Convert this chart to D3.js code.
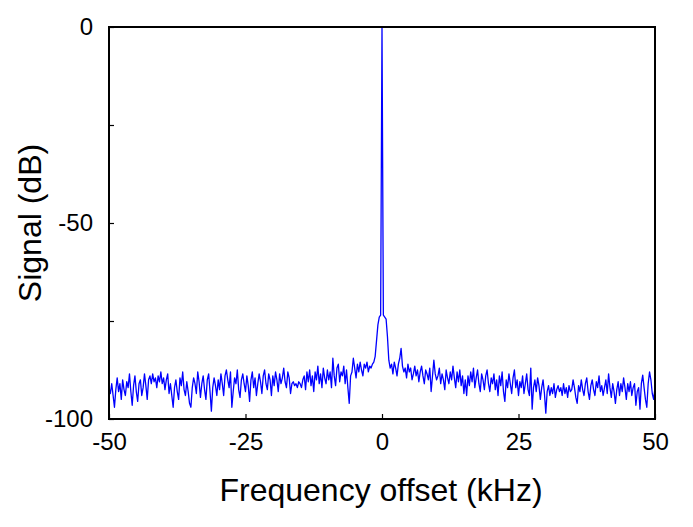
<!DOCTYPE html>
<html>
<head>
<meta charset="utf-8">
<script src="https://cdn.jsdelivr.net/npm/d3@7"></script>
<style>
  html, body { margin: 0; padding: 0; background: #fff; }
  svg { display: block; font-family: Arial, "Liberation Sans", sans-serif; }
</style>
</head>
<body>
<svg id="chart" width="693" height="527"></svg>
<script>
// Frequency grid (kHz), 0.25 kHz spacing from -50 to 50
const freqStart = -50;
const freqStep = 0.25;

// Signal (dB), left of carrier: -50 ... -0.25 kHz
const signalLeft = [
  -92, -93.5, -91, -94, -97, -92.5, -89.5, -93, -91, -95, -90, -92.5, -94, -90.5, -92, -88.5, -93, -96.5, -91.5, -89,
  -93, -95.5, -91, -90, -94, -92, -88.5, -91.5, -95, -90, -89, -91, -88.5, -90.5, -89.5, -92, -89, -90.5, -88, -91,
  -89.5, -92.5, -90, -88.5, -93.5, -91, -94, -97, -92, -90, -93, -95, -89.5, -91.5, -88, -92.5, -94, -90.5, -93, -96,
  -97, -92, -89.5, -91, -93.5, -88, -90.5, -94.5, -91, -89, -92.5, -95, -90, -88.5, -93, -98, -92, -89.5, -91.5, -94,
  -90, -92.5, -88.5, -91, -94, -89, -87.5, -90, -92, -88, -97, -93, -89.5, -91, -87.5, -92.5, -94.5, -90, -88.5, -91,
  -93, -89, -91.5, -95.5, -90, -88, -92, -89.5, -94, -91, -88.5, -90.5, -93.5, -89, -87.5, -91, -92.5, -88.5, -90, -94,
  -89, -91.5, -88, -90, -93, -88.5, -91, -89.5, -87, -90.5, -92, -88, -89.5, -93.5, -91, -90.5, -91.5, -91, -92, -90.5,
  -91, -92, -90, -89, -92.5, -88, -90.5, -87.5, -91.5, -89, -93, -88, -90, -86.5, -91, -88.5, -92, -87, -89.5, -91,
  -87.5, -90, -88, -92, -84.5, -89, -91.5, -87, -86, -90.5, -88, -89, -86.5, -91, -87.5, -92, -96, -89, -88, -84.5,
  -87, -89.5, -86, -88, -85.5, -87.5, -89, -86, -87, -85.5, -88, -86.5, -87, -86, -85.5, -84, -80, -76, -74, -73.5
];

// Carrier at 0 kHz
const signalCarrier = [0];

// Signal (dB), right of carrier: 0.25 ... 50 kHz
const signalRight = [
  -73.5, -74, -74.5, -79, -85, -87, -86, -88.5, -85.5, -87, -89, -86, -84.5, -82, -86.5, -88, -87, -89.5, -86, -88,
  -87, -90, -88.5, -86.5, -89, -87.5, -90.5, -88, -86.5, -89, -91, -87.5, -88.5, -90, -87, -93, -89, -85, -88.5, -90,
  -89, -87, -91, -88.5, -90, -92.5, -87.5, -89.5, -91, -88, -90, -86.5, -89.5, -92, -88, -90.5, -87.5, -91.5, -89, -93.5,
  -90, -94, -89, -91.5, -88, -90.5, -87, -92, -89.5, -87.5, -91, -93, -88.5, -90, -92.5, -89, -87.5, -91, -93, -89.5,
  -91, -88.5, -92.5, -90, -94, -89, -91.5, -88, -93, -95.5, -90, -92, -88.5, -91, -93.5, -89.5, -87.5, -92, -90, -94,
  -90.5, -92, -89, -93.5, -91, -88.5, -92.5, -94, -87, -97.5, -92, -90, -93, -89.5, -91.5, -95, -92, -90, -93.5, -98.5,
  -93, -91.5, -94, -92, -93.5, -91, -94.5, -92.5, -91.5, -93, -92, -94, -91, -93.5, -92, -94.5, -91.5, -93, -92.5, -90,
  -92, -94.5, -96, -91.5, -93, -90, -92.5, -94, -91, -89.5, -93, -95, -91.5, -90, -92.5, -94, -90.5, -92, -89, -93,
  -91.5, -94, -92, -90, -93.5, -88.5, -92, -94.5, -91, -93, -96, -92.5, -90.5, -94, -91, -93, -89.5, -92, -95, -91,
  -93, -90.5, -94, -92, -91, -96.5, -93, -92, -97.5, -91, -88.8, -92, -95, -97, -91, -88, -90, -93.5, -95, -92
];

const xTicks = [-50, -25, 0, 25, 50];
const yTicks = [-100, -50, 0];
const yMinorTicks = [-100, -75, -50, -25, 0];
const xLabel = "Frequency offset (kHz)";
const yLabel = "Signal (dB)";

const signal = signalLeft.concat(signalCarrier, signalRight);
const data = signal.map((v, i) => ({ f: freqStart + i * freqStep, s: v }));

const svg = d3.select("#chart");
const W = 693, H = 527;
const margin = { left: 109, top: 27, right: 38, bottom: 108 };
const iw = W - margin.left - margin.right;
const ih = H - margin.top - margin.bottom;

const x = d3.scaleLinear().domain([-50, 50]).range([0, iw]);
const y = d3.scaleLinear().domain([-100, 0]).range([ih, 0]);

const g = svg.append("g").attr("transform", `translate(${margin.left},${margin.top})`);

const clipId = "plotclip";
svg.append("defs").append("clipPath").attr("id", clipId)
  .append("rect").attr("x", 0).attr("y", 0).attr("width", iw).attr("height", ih);

// line
g.append("path")
  .datum(data)
  .attr("clip-path", `url(#${clipId})`)
  .attr("fill", "none")
  .attr("stroke", "#0000ff")
  .attr("stroke-width", 1.3)
  .attr("stroke-linejoin", "round")
  .attr("d", d3.line().x(d => x(d.f)).y(d => y(d.s)));

// axes (inward ticks)
const xAxis = d3.axisBottom(x).tickValues(xTicks).tickSizeInner(-5).tickSizeOuter(0).tickPadding(14)
  .tickFormat(d3.format("d"));
const gx = g.append("g").attr("transform", `translate(0,${ih})`).call(xAxis);
gx.select(".domain").remove();
gx.selectAll(".tick line").attr("stroke", "#000").attr("stroke-width", 1.2);
gx.selectAll(".tick text").attr("font-size", 24).attr("fill", "#000")
  .text(d => d < 0 ? "-" + Math.abs(d) : d);

const yAxis = d3.axisLeft(y).tickValues(yMinorTicks).tickSizeInner(-5).tickSizeOuter(0).tickPadding(16)
  .tickFormat(d => yTicks.includes(d) ? (d < 0 ? "-" + Math.abs(d) : String(d)) : "");
const gy = g.append("g").call(yAxis);
gy.select(".domain").remove();
gy.selectAll(".tick line").attr("stroke", "#000").attr("stroke-width", 1.2);
gy.selectAll(".tick text").attr("font-size", 24).attr("fill", "#000");

// frame
g.append("rect")
  .attr("x", 0).attr("y", 0).attr("width", iw).attr("height", ih)
  .attr("fill", "none").attr("stroke", "#000").attr("stroke-width", 2);

// axis titles
svg.append("text")
  .attr("x", margin.left + iw / 2 - 1).attr("y", 501)
  .attr("text-anchor", "middle").attr("font-size", 32).attr("fill", "#000")
  .text(xLabel);

svg.append("text")
  .attr("transform", `translate(41,${margin.top + ih / 2}) rotate(-90)`)
  .attr("text-anchor", "middle").attr("font-size", 32).attr("fill", "#000")
  .text(yLabel);
</script>
</body>
</html>
